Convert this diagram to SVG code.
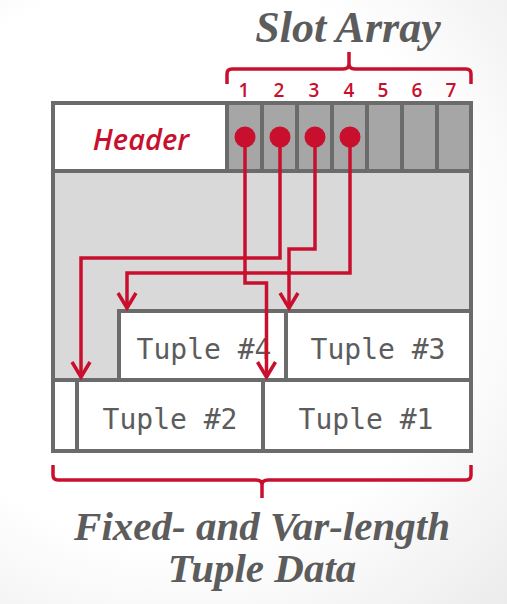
<svg xmlns="http://www.w3.org/2000/svg" width="507" height="604" viewBox="0 0 507 604">
  <style>
    .frame { fill: none; stroke: #6b6b6b; stroke-width: 4; }
    .div { stroke: #6b6b6b; stroke-width: 4; }
    .slot { fill: #a6a6a6; }
    .free { fill: #d9d9d9; }
    .tuple { fill: #ffffff; }
    .red { fill: none; stroke: #c8102e; stroke-width: 3.5; }
    .dot { fill: #c8102e; }
    .title { font-family: "Liberation Serif", "Times New Roman", serif; font-style: italic; font-weight: bold; fill: #5c5c5c; text-anchor: middle; }
    .num { font-family: "Open Sans", "DejaVu Sans", sans-serif; font-weight: 600; font-size: 19px; fill: #c8102e; text-anchor: middle; }
    .hdr { font-family: "Open Sans", "DejaVu Sans", sans-serif; font-style: italic; font-weight: 600; font-size: 29px; fill: #c8102e; text-anchor: middle; }
    .tl { font-family: "DejaVu Sans Mono", "Liberation Mono", monospace; font-size: 28px; fill: #5c5c5c; text-anchor: middle; }
  </style>
  <defs>
    <radialGradient id="bg" cx="180" cy="260" r="480" gradientUnits="userSpaceOnUse">
      <stop offset="0.6" stop-color="#ffffff"/>
      <stop offset="1" stop-color="#ebebeb"/>
    </radialGradient>
    <marker id="arr" viewBox="-20 -12 24 24" markerWidth="24" markerHeight="24" refX="0" refY="0" orient="auto" markerUnits="userSpaceOnUse">
      <path d="M-15,-9 L0,0 L-15,9" fill="none" stroke="#c8102e" stroke-width="3.5"/>
    </marker>
  </defs>

  <rect x="0" y="0" width="507" height="604" fill="url(#bg)"/>

  <text class="title" x="348" y="42" font-size="44">Slot Array</text>

  <path class="red" d="M227 84 V74 Q227 69 232 69 H343 Q349 69 349 64 V52 M349 64 Q349 69 355 69 H466 Q471 69 471 74 V84" stroke-width="4"/>

  <g id="slot-numbers">
    <text class="num" x="244" y="97">1</text>
    <text class="num" x="279" y="97">2</text>
    <text class="num" x="314" y="97">3</text>
    <text class="num" x="349" y="97">4</text>
    <text class="num" x="383" y="97">5</text>
    <text class="num" x="417" y="97">6</text>
    <text class="num" x="451" y="97">7</text>
  </g>

  <g id="page">
    <rect class="free" x="53" y="171" width="418" height="209"/>
    <rect class="tuple" x="53" y="103" width="174" height="68"/>
  </g>

  <g id="header">
    <text class="hdr" x="141" y="150">Header</text>
  </g>

  <g id="slot-array">
    <rect class="slot" x="227" y="103" width="244" height="68"/>
    <line class="div" x1="227" y1="103" x2="227" y2="171"/>
    <line class="div" x1="262" y1="103" x2="262" y2="171"/>
    <line class="div" x1="297" y1="103" x2="297" y2="171"/>
    <line class="div" x1="332" y1="103" x2="332" y2="171"/>
    <line class="div" x1="367" y1="103" x2="367" y2="171"/>
    <line class="div" x1="402" y1="103" x2="402" y2="171"/>
    <line class="div" x1="437" y1="103" x2="437" y2="171"/>
    <line class="div" x1="53" y1="171" x2="471" y2="171"/>
  </g>

  <g id="tuple4">
    <rect class="tuple" x="119" y="311" width="167" height="69"/>
    <rect class="frame" x="119" y="311" width="167" height="69"/>
    <text class="tl" x="204" y="359">Tuple #4</text>
  </g>
  <g id="tuple3">
    <rect class="tuple" x="286" y="311" width="185" height="69"/>
    <rect class="frame" x="286" y="311" width="185" height="69"/>
    <text class="tl" x="378" y="359">Tuple #3</text>
  </g>
  <g id="free-cell">
    <rect class="tuple" x="53" y="380" width="24" height="71"/>
    <rect class="frame" x="53" y="380" width="24" height="71"/>
  </g>
  <g id="tuple2">
    <rect class="tuple" x="77" y="380" width="186" height="71"/>
    <rect class="frame" x="77" y="380" width="186" height="71"/>
    <text class="tl" x="170" y="429">Tuple #2</text>
  </g>
  <g id="tuple1">
    <rect class="tuple" x="263" y="380" width="208" height="71"/>
    <rect class="frame" x="263" y="380" width="208" height="71"/>
    <text class="tl" x="366" y="429">Tuple #1</text>
  </g>

  <rect class="frame" x="53" y="103" width="418" height="348"/>

  <g id="connectors">
    <path class="red" d="M245 137 V283 H266.5 V377" marker-end="url(#arr)"/>
    <path class="red" d="M280 137 V258 H81 V377" marker-end="url(#arr)"/>
    <path class="red" d="M315 137 V249 H289 V308" marker-end="url(#arr)"/>
    <path class="red" d="M350 137 V273 H127 V308" marker-end="url(#arr)"/>
    <circle class="dot" cx="245" cy="137" r="10.5"/>
    <circle class="dot" cx="280" cy="137" r="10.5"/>
    <circle class="dot" cx="315" cy="137" r="10.5"/>
    <circle class="dot" cx="350" cy="137" r="10.5"/>
  </g>

  <path class="red" d="M53 465 V475 Q53 480 58 480 H256 Q262 480 262 485 V498 M262 485 Q262 480 268 480 H466 Q471 480 471 475 V465" stroke-width="4"/>

  <text class="title" x="262" y="540" font-size="41">Fixed- and Var-length</text>
  <text class="title" x="262" y="582" font-size="41">Tuple Data</text>
</svg>
